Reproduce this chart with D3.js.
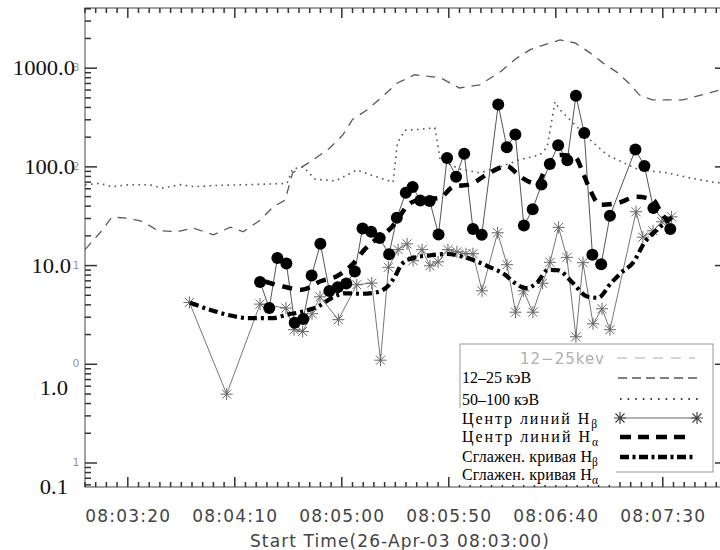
<!DOCTYPE html>
<html lang="ru">
<head>
<meta charset="UTF-8">
<title>Hα / Hβ / HXR</title>
<script src="https://d3js.org/d3.v7.min.js"></script>
<style>
    body { margin: 0; background: #fff; }
    svg { display: block; }
</style>
</head>
<body>
<div id="container"></div>
<script>
// time in seconds after 08:03:00
const tUpper = [0,7,12.6,21,27,34,43,50.5,60,68,74,82,88,93.5,97,106.5,114.5,120.5,125,132,139,146,154,166,175,184.5,194,201,208,215,222,229,236,242,249,255,259,265,272,279.5,286,293.5,300];
const vUpper = [14.5,21.5,31,30,28,22.6,22,24,20.5,24.5,22,29,39.5,46,87,117,156,211,302,380,516,708,857,800,630,677,915,1230,1540,1730,1936,1800,1430,1132,896,677,537,478,478,478,520,575,630];

const tDot = [0,7,12.6,21,30,36.4,44.4,51.4,63,75,86.4,94.4,97,102,107.5,117,127,135.5,144,146,149.5,156.5,163.5,166,175,184.5,194,203,212.6,216,219.6,222,228,236,244,251,259,272,283,293.5,300];
const vDot = [66,68,63,66,66,61,66,63,65,66,67,68,95,100,75,72,93,80,70,176,235,240,249,118,95,87,100,118,132,160,456,378,280,188,132,112,93,87,77,70,68];

const tHb = [48.8,66.2,81.8,93.9,97.7,101.7,106.1,109.8,118.4,127.0,134.0,138.1,141.8,146.3,150.5,153.3,157.5,161.2,165.0,169.6,173.8,178.0,181.3,185.5,192.8,197.2,201.2,204.9,209.3,213.8,217.3,221.3,225.2,229.4,232.7,237.4,241.6,245.3,257.5,260.7,265.4,269.6,274.1];
const vHb = [4.23,0.498,4.07,3.71,2.24,2.15,3.25,4.83,2.83,6.39,6.65,1.10,9.6,14.5,16.6,11.2,14.5,9.95,10.9,14.5,13.8,13.2,13.2,5.55,21.5,10.2,3.37,5.55,3.37,6.62,10.8,24.4,12.1,1.90,10.7,2.57,3.65,2.24,35.1,19.4,22.5,27.8,31.2];

const tHa = [81.8,86.1,89.9,94.1,98.0,102.0,105.9,110.0,114.2,118.1,122.1,126.1,129.7,133.7,137.7,142.1,145.7,149.9,153.1,156.7,161.1,165.2,169.2,173.4,177.2,181.3,185.4,193.1,197.1,201.1,205.1,209.2,213.3,217.2,221.1,225.4,229.4,233.3,237.1,241.2,245.3,257.2,261.4,265.6,273.5];
const vHa = [6.81,3.71,11.9,10.5,2.63,2.87,7.94,16.6,5.52,6.03,6.57,8.71,23.8,22.0,19.0,13.0,30.5,54.6,62.4,45.6,45.1,20.7,123,79.3,136,23.5,20.5,428,158,213,25.4,37.3,66.1,107,166,117,526,220,12.9,10.3,31.9,150,102,38.2,23.5];

// smoothed curves
const tSa = [84.1,92.5,101.3,109.8,117.6,125.2,130.6,136.9,143.5,147.2,150.9,156.5,165.9,172.0,179.9,188.3,197.1,203.3,211.1,215.7,222.0,229.0,232.7,236.0,240.7,248.6,258.0,265.4,270.1,273.4];
const vSa = [6.90,6.14,5.69,6.90,7.79,10.4,14.5,19.1,24.7,31.9,41.3,46.4,48.6,62.8,66.6,85.0,102,79.8,67.3,100,132,126,87,58.6,41.3,42.9,49.7,46.4,31.9,27.8];

const tSb = [49.1,58.4,66.4,77.1,87.4,94.4,101.4,108.9,115.9,121.5,129.4,136.4,142.1,144.9,148.1,154.2,161.2,169.2,177.6,183.6,188.8,196.3,200.9,206.1,211.2,216.4,221.0,228.0,234.6,239.7,245.8,250.5,256.1,261.7,266.8,271.0,274.3];
const vSb = [4.20,3.57,3.18,2.93,2.93,3.18,3.41,3.85,4.78,5.24,5.18,5.37,6.39,7.79,10.4,12.1,12.7,13.1,12.1,10.9,9.72,8.07,6.65,5.92,6.70,9.07,8.96,6.65,4.86,4.72,6.65,8.45,10.7,17.4,22.5,27.1,30.8];

const xTicks = [20, 70, 120, 170, 220, 270];
const yLabelVals = [1000, 100, 10, 1, 0.1];
const yLabels = ['1000.0', '100.0', '10.0', '1.0', '0.1'];
const yGhost = ['3', '2', '1', '0', '1'];
const xTitle = 'Start Time(26-Apr-03 08:03:00)';

const W = 720, H = 550;
const pLeft = 85, pRight = 727, pTop = 8, pBottom = 487;

const svg = d3.select('#container').append('svg')
    .attr('width', W).attr('height', H);

const x = d3.scaleLinear().domain([0, 300]).range([pLeft, pRight]);
const y = d3.scaleLog().domain([0.0571, 4070]).range([pBottom, pTop]);

const rows = (ts, vs) => ts.map((t, i) => ({t: t, v: vs[i]}));

// clip
svg.append('clipPath').attr('id', 'clip')
  .append('rect').attr('x', pLeft).attr('y', pTop)
  .attr('width', pRight - pLeft).attr('height', pBottom - pTop);

// ---- axes
const fmt = s => {
    const tot = 3 * 60 + s;
    const m = Math.floor(tot / 60), sec = tot % 60;
    return '08:' + String(m).padStart(2, '0') + ':' + String(sec).padStart(2, '0');
};
const minorX = d3.range(0, 301, 5).filter(v => xTicks.indexOf(v) < 0);
const minorY = [];
[0.01, 0.1, 1, 10, 100, 1000].forEach(d => {
    for (let k = 2; k <= 9; k++) {
        const v = d * k;
        if (v > 0.0571 && v < 4070) minorY.push(v);
    }
});

const tickCol = '#333';

// frame
svg.append('rect').attr('x', pLeft).attr('y', pTop)
    .attr('width', pRight - pLeft).attr('height', pBottom - pTop)
    .attr('fill', 'none').attr('stroke', '#666').attr('stroke-width', 1.2);

// x ticks (bottom pointing up, top pointing down)
const xt = svg.append('g').attr('stroke', tickCol).attr('stroke-width', 1.5);
[[minorX, 5], [xTicks, 10]].forEach(([vals, len]) => {
    xt.selectAll(null).data(vals).enter().append('line')
        .attr('x1', d => x(d)).attr('x2', d => x(d))
        .attr('y1', pBottom).attr('y2', pBottom - len);
    xt.selectAll(null).data(vals).enter().append('line')
        .attr('x1', d => x(d)).attr('x2', d => x(d))
        .attr('y1', pTop).attr('y2', pTop + len);
});
// y ticks (left pointing right, right pointing left)
const yt = svg.append('g').attr('stroke', tickCol).attr('stroke-width', 1.5);
[[minorY, 6], [yLabelVals, 12]].forEach(([vals, len]) => {
    yt.selectAll(null).data(vals).enter().append('line')
        .attr('y1', d => y(d)).attr('y2', d => y(d))
        .attr('x1', pLeft).attr('x2', pLeft + len);
    yt.selectAll(null).data(vals).enter().append('line')
        .attr('y1', d => y(d)).attr('y2', d => y(d))
        .attr('x1', pRight).attr('x2', pRight - len);
});

// x tick labels through d3 axis (tick lines drawn above)
svg.append('g').attr('transform', `translate(0,${pBottom})`)
    .call(d3.axisBottom(x).tickValues(xTicks).tickSize(0).tickPadding(23).tickFormat(fmt))
    .call(g => g.select('.domain').remove())
    .call(g => g.selectAll('text')
        .attr('font-family', '"DejaVu Sans", sans-serif')
        .attr('font-size', 17).attr('fill', '#444').attr('letter-spacing', 1.2));

// x title
svg.append('text')
    .attr('x', (pLeft + pRight) / 2 - 6).attr('y', 547)
    .attr('text-anchor', 'middle')
    .attr('font-family', '"DejaVu Sans", sans-serif')
    .attr('font-size', 17).attr('fill', '#444').attr('letter-spacing', 1.1)
    .text(xTitle);

// ghost remnants of the original tick labels
svg.append('g').selectAll('text')
    .data(yLabelVals)
    .enter()
    .append('text')
    .attr('x', 76).attr('y', d => y(d) + 3)
    .attr('text-anchor', 'middle')
    .attr('font-family', '"DejaVu Sans", sans-serif')
    .attr('font-size', 11).attr('fill', '#999')
    .text((d, i) => yGhost[i]);

// y labels laid over (serif)
svg.append('g').selectAll('text')
    .data(yLabelVals)
    .enter()
    .append('text')
    .attr('x', (d, i) => i < 2 ? 75 : (i == 2 ? 71 : 68))
    .attr('y', (d, i) => y(d) + (i < 3 ? 7 : 31))
    .attr('text-anchor', 'end')
    .attr('font-family', '"Liberation Serif", serif')
    .attr('font-size', 20).attr('fill', '#111')
    .text((d, i) => yLabels[i])
    .each(function() {
        const len = this.getComputedTextLength();
        d3.select(this).attr('textLength', len * 1.13).attr('lengthAdjust', 'spacingAndGlyphs');
    });

// ---- data
const plot = svg.append('g').attr('clip-path', 'url(#clip)');
const line = d3.line().x(d => x(d.t)).y(d => y(d.v));
const smooth = d3.line().x(d => x(d.t)).y(d => y(d.v)).curve(d3.curveMonotoneX);

plot.append('path').datum(rows(tUpper, vUpper))
    .attr('d', line).attr('fill', 'none')
    .attr('stroke', '#5a5a5a').attr('stroke-width', 1.3).attr('stroke-dasharray', '9 7');

plot.append('path').datum(rows(tDot, vDot))
    .attr('d', line).attr('fill', 'none')
    .attr('stroke', '#555').attr('stroke-width', 1.6)
    .attr('stroke-dasharray', '1.6 4.4');

plot.append('path').datum(rows(tHb, vHb))
    .attr('d', line).attr('fill', 'none')
    .attr('stroke', '#777').attr('stroke-width', 1);

plot.append('path').datum(rows(tHa, vHa))
    .attr('d', line).attr('fill', 'none')
    .attr('stroke', '#555').attr('stroke-width', 1);

const star = 'M-6,0H6M0,-6V6M-4.5,-4.5L4.5,4.5M-4.5,4.5L4.5,-4.5';
plot.selectAll('hb')
    .data(rows(tHb, vHb))
    .enter()
    .append('path')
    .attr('transform', d => `translate(${x(d.t)},${y(d.v)})`)
    .attr('d', star).attr('fill', 'none')
    .attr('stroke', '#666').attr('stroke-width', 1);

plot.append('path').datum(rows(tSa, vSa))
    .attr('d', smooth).attr('fill', 'none')
    .attr('stroke', '#000').attr('stroke-width', 4.5)
    .attr('stroke-dasharray', '10 8');

plot.append('path').datum(rows(tSb, vSb))
    .attr('d', smooth).attr('fill', 'none')
    .attr('stroke', '#000').attr('stroke-width', 4.2)
    .attr('stroke-dasharray', '9 4 3 4');

plot.selectAll('ha')
    .data(rows(tHa, vHa))
    .enter()
    .append('circle')
    .attr('cx', d => x(d.t)).attr('cy', d => y(d.v))
    .attr('r', 6).attr('fill', '#000');

// ---- legend
const lg = svg.append('g');
lg.append('rect').attr('x', 460).attr('y', 344).attr('width', 253).attr('height', 128)
    .attr('fill', '#fff').attr('stroke', '#999').attr('stroke-width', 1);
lg.append('rect').attr('x', 456).attr('y', 408).attr('width', 160).attr('height', 77)
    .attr('fill', '#fff');

lg.append('text').attr('x', 520).attr('y', 364)
    .attr('font-family', '"DejaVu Sans", sans-serif').attr('font-size', 15)
    .attr('fill', '#b0b0b0').attr('letter-spacing', 1)
    .text('12\u221225kev');
lg.append('line').attr('x1', 617).attr('x2', 695).attr('y1', 358).attr('y2', 358)
    .attr('stroke', '#aaa').attr('stroke-width', 1.2).attr('stroke-dasharray', '10 8');

const serif = '"Liberation Serif", serif';
const legendRows = [
    {y: 383, parts: ['12\u201325 кэВ']},
    {y: 405, parts: ['50\u2013100 кэВ']},
    {y: 424, parts: ['Центр линий H', 'β'], w: 135},
    {y: 442, parts: ['Центр линий H', 'α'], w: 136},
    {y: 462, parts: ['Сглажен. кривая H', 'β'], w: 136},
    {y: 480, parts: ['Сглажен. кривая H', 'α'], w: 136}
];
legendRows.forEach(r => {
    const t = lg.append('text').attr('x', 462).attr('y', r.y)
        .attr('font-family', serif).attr('font-size', 16).attr('fill', '#000');
    const main = t.append('tspan').text(r.parts[0]);
    if (r.parts[1]) {
        t.append('tspan').attr('dy', 4).attr('font-size', 11.5).text(r.parts[1]);
    }
    if (r.w) {
        const len = t.node().getComputedTextLength();
        const sp = (r.w - len) / r.parts[0].length;
        main.attr('letter-spacing', Math.max(0, sp).toFixed(2));
    }
});

lg.append('line').attr('x1', 618).attr('x2', 702).attr('y1', 378).attr('y2', 378)
    .attr('stroke', '#000').attr('stroke-width', 1.2).attr('stroke-dasharray', '9 5');
lg.append('line').attr('x1', 620).attr('x2', 702).attr('y1', 399).attr('y2', 399)
    .attr('stroke', '#000').attr('stroke-width', 1.6).attr('stroke-dasharray', '1.6 6');
lg.append('line').attr('x1', 620).attr('x2', 697).attr('y1', 418).attr('y2', 418)
    .attr('stroke', '#666').attr('stroke-width', 1);
[620, 697].forEach(px => {
    lg.append('path').attr('transform', `translate(${px},418)`).attr('d', star)
        .attr('fill', 'none').attr('stroke', '#444').attr('stroke-width', 1.2);
});
lg.append('line').attr('x1', 620).attr('x2', 690).attr('y1', 437).attr('y2', 437)
    .attr('stroke', '#000').attr('stroke-width', 4.5).attr('stroke-dasharray', '11 7');
lg.append('line').attr('x1', 620).attr('x2', 695).attr('y1', 457).attr('y2', 457)
    .attr('stroke', '#000').attr('stroke-width', 4.5).attr('stroke-dasharray', '9 3.5 3 3.5');
</script>
</body>
</html>
